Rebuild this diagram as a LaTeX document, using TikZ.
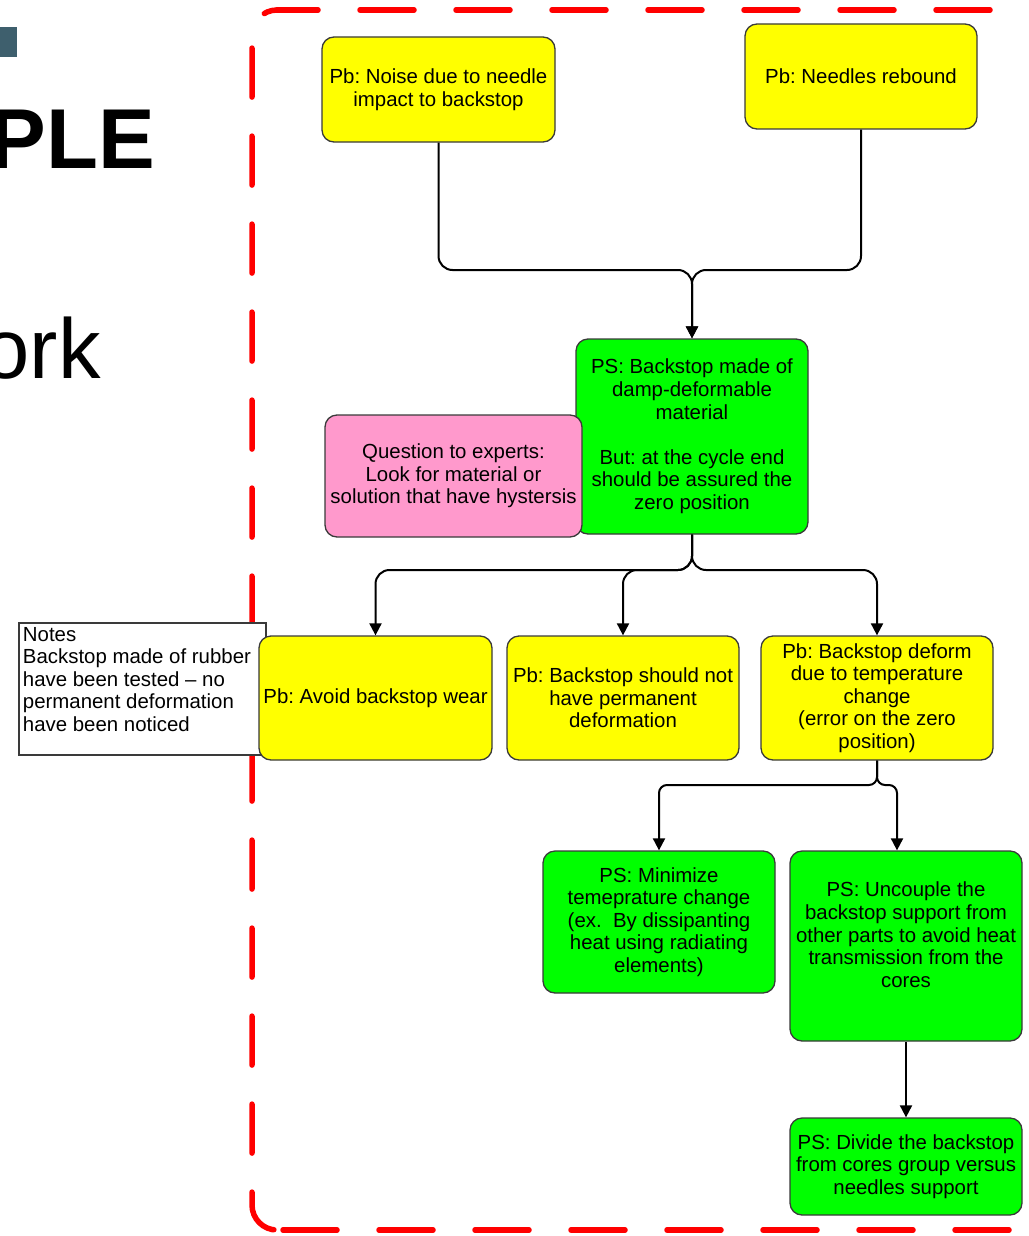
\documentclass[tikz,border=0pt]{standalone}
\usepackage{fontspec}
\setmainfont{Liberation Sans}
\usetikzlibrary{arrows.meta,calc}
\definecolor{pbyellow}{HTML}{FFFF00}
\definecolor{psgreen}{HTML}{00FF00}
\definecolor{qpink}{HTML}{FF99CC}
\definecolor{boxline}{HTML}{3A3A3A}
\definecolor{framered}{HTML}{FF0000}
\definecolor{slate}{HTML}{3E5F6D}
\frenchspacing

\begin{document}
\begin{tikzpicture}[x=1pt,y=-1pt,
  box/.style={draw=boxline, line width=1.3pt, rounded corners=12pt, inner sep=2pt,
    align=center, font=\fontsize{20.4}{22.6}\selectfont},
  pb/.style={box, fill=pbyellow},
  ps/.style={box, fill=psgreen},
  ask/.style={box, fill=qpink},
  notebox/.style={draw=boxline, line width=1.5pt, fill=white, inner sep=4pt,
    font=\fontsize{20.4}{22.6}\selectfont},
  conn/.style={line width=2pt, rounded corners=14pt, -{Triangle[length=12pt,width=12pt]}},
  tightconn/.style={conn, rounded corners=8pt},
  slidetext/.style={inner sep=0pt, font=\fontsize{85}{90}\selectfont},
  frameline/.style={framered, line width=5.5pt, line cap=round},
]
\useasboundingbox (0,0) rectangle (1028,1236);

% slide fragments on the left
\fill[slate] (0,27) rectangle (17,57);
\node[slidetext, anchor=base east, font=\fontsize{85}{90}\selectfont\bfseries] (title) at (155,168) {PLE};
\node[slidetext, anchor=base east] (bullet) at (101,378) {ork};

% dashed frame around the problem tree
\draw[frameline, dash pattern=on 54pt off 42pt, dash phase=26pt] (1060,10) -- (277,10);
\draw[frameline, dash pattern=on 49pt off 39pt, dash phase=35.7pt, rounded corners=25pt]
  (277,10) -- (252,10) -- (252,1230) -- (277,1230);
\draw[frameline, dash pattern=on 54pt off 42pt, dash phase=90pt] (277,1230) -- (1060,1230);

% notes
\node[notebox] (notes) at (142.5,689) {%
  \begin{minipage}[c][124pt][t]{239pt}\raggedright
  Notes\\
  Backstop made of rubber\\
  have been tested -- no\\
  permanent deformation\\
  have been noticed
  \end{minipage}};

% problems and solutions
\node[pb, minimum width=233pt, minimum height=105pt] (n1) at (438.5,89.5)
  {Pb: Noise due to needle\\impact to backstop};
\node[pb, minimum width=232pt, minimum height=105pt] (n2) at (861,76.5)
  {Pb: Needles rebound};
\node[ps, minimum width=232pt, minimum height=195pt] (n3) at (692,436.5)
  {PS: Backstop made of\\damp-deformable\\material\\[22.6pt]But: at the cycle end\\should be assured the\\zero position};
\node[ask, minimum width=257pt, minimum height=122pt] (n4) at (453.5,476)
  {Question to experts:\\Look for material or\\solution that have hystersis};
\node[pb, minimum width=233pt, minimum height=124pt] (n5) at (375.5,698)
  {Pb: Avoid backstop wear};
\node[pb, minimum width=232pt, minimum height=124pt] (n6) at (623,698)
  {Pb: Backstop should not\\have permanent\\deformation};
\node[pb, minimum width=232pt, minimum height=124pt] (n7) at (877,698)
  {Pb: Backstop deform\\due to temperature\\change\\(error on the zero\\position)};
\node[ps, minimum width=232pt, minimum height=142pt] (n8) at (659,922)
  {PS: Minimize\\temeprature change\\(ex.\ \ By dissipanting\\heat using radiating\\elements)};
\node[ps, minimum width=232pt, minimum height=190pt] (n9) at (906,946)
  {PS: Uncouple the\\backstop support from\\other parts to avoid heat\\transmission from the\\cores\\\mbox{}};
\node[ps, minimum width=232pt, minimum height=97pt] (n10) at (906,1166.5)
  {PS: Divide the backstop\\from cores group versus\\needles support};

% junction points of the tree
\coordinate (j1) at (692,270);
\coordinate (j2) at (692,570);
\coordinate (j3) at (877,785);

% connectors
\draw[conn] (n1.south) |- (j1) -- (n3.north);
\draw[conn] (n2.south) |- (j1) -- (n3.north);
\draw[conn] (n3.south) -- (j2) -| (n5.north);
\draw[conn] (n3.south) -- (j2) -| (n6.north);
\draw[conn] (n3.south) -- (j2) -| (n7.north);
\draw[tightconn] (n7.south) -- (j3) -| (n8.north);
\draw[tightconn] (n7.south) -- (j3) -| ([xshift=-9pt]n9.north);
\draw[conn] (n9.south) -- (n10.north);
\end{tikzpicture}
\end{document}
